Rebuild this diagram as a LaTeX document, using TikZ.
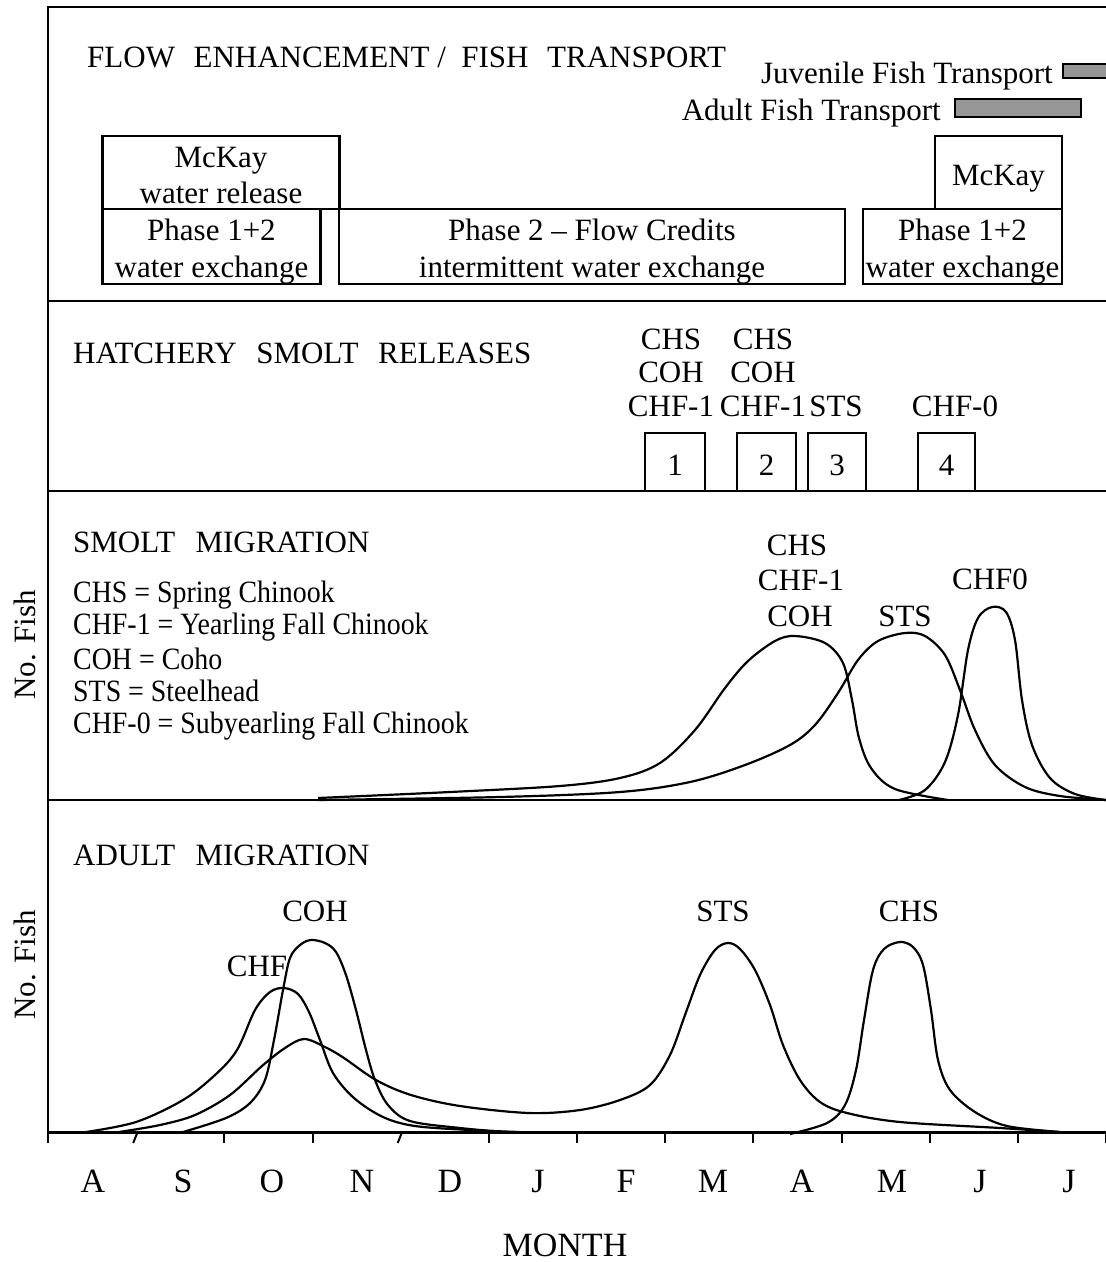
\documentclass[tikz,border=0pt]{standalone}
\usepackage{fontspec}
\setmainfont{Liberation Serif}
\definecolor{bargray}{RGB}{150,150,150}
\newcommand{\dn}[2]{\raisebox{#1}[\height][\depth]{#2}}
\begin{document}
\begin{tikzpicture}[x=1pt,y=-1pt,
  txt/.style={font=\fontsize{31}{36}\selectfont, inner sep=0pt},
  mon/.style={font=\fontsize{34}{40}\selectfont, inner sep=0pt, anchor=base},
  frameline/.style={line width=2.2pt},
  curve/.style={line width=2.2pt, smooth, tension=0.55, line join=round},
  boxed/.style={draw, line width=2.2pt, inner sep=0pt, align=center,
    font=\fontsize{31}{36.5}\selectfont},
  bar/.style={draw, line width=1.8pt, fill=bargray}]
\useasboundingbox (0,0) rectangle (1106,1262);
% frame
\coordinate (tl) at (48,7);
\coordinate (tr) at (1106,7);
\coordinate (bl) at (48,1132);
\coordinate (br) at (1106,1132);
\draw[frameline] (tr) -- (tl) -- (bl);
\draw[line width=3pt] (bl) -- (br);
\foreach \y in {301,491,800} \draw[frameline] (48,\y) -- (1106,\y);
% ticks
\foreach \k in {0,2,3,5,6,7,8,9,10,11,12} \draw[line width=2pt] ({48+88.17*\k},1132) -- ({48+88.17*\k},1143);
\foreach \k in {1,4} \draw[line width=2pt] ({48+88.17*\k-3},1143) -- ({48+88.17*\k+1},1133);
% ---------- flow enhancement ----------
\node[txt, anchor=base west] (hflow) at (87,67) {FLOW\hspace{0.35em} ENHANCEMENT /\hspace{0.25em} FISH\hspace{0.35em} TRANSPORT};
\node[txt, anchor=base east] (juv) at (1053,83) {Juvenile Fish Transport};
\node[txt, anchor=base east] (adt) at (941,120) {Adult Fish Transport};
\draw[bar] (1063,64) rectangle (1112,78);
\draw[bar] (955,99) rectangle (1081,117);
\node[boxed, minimum width=237pt, minimum height=73pt] (mck1) at (221,172.5) {\dn{-3pt}{McKay}\\\dn{-3pt}{water release}};
\node[boxed, minimum width=218pt, minimum height=75pt] (ph1) at (211.5,246.5) {\dn{-5pt}{Phase 1+2}\\\dn{-5pt}{water exchange}};
\node[boxed, minimum width=506pt, minimum height=75pt] (ph2) at (592,246.5) {\dn{-5pt}{Phase 2 -- Flow Credits}\\\dn{-5pt}{intermittent water exchange}};
\node[boxed, minimum width=127pt, minimum height=73pt] (mck2) at (998.5,172.5) {\dn{-6pt}{McKay}};
\node[boxed, minimum width=199pt, minimum height=75pt] (ph3) at (962.5,246.5) {\dn{-5pt}{Phase 1+2}\\\dn{-5pt}{water exchange}};
% ---------- hatchery ----------
\node[txt, anchor=base west] (hhat) at (73,363) {HATCHERY\hspace{0.38em} SMOLT\hspace{0.38em} RELEASES};
\node[txt, anchor=base] (h1a) at (671,349) {CHS};
\node[txt, anchor=base] (h1b) at (671,382) {COH};
\node[txt, anchor=base] (h1c) at (671,416) {CHF-1};
\node[txt, anchor=base] (h2a) at (763,349) {CHS};
\node[txt, anchor=base] (h2b) at (763,382) {COH};
\node[txt, anchor=base] (h2c) at (763,416) {CHF-1};
\node[txt, anchor=base] (h3c) at (836,416) {STS};
\node[txt, anchor=base] (h4c) at (955,416) {CHF-0};
\node[boxed, minimum width=60pt, minimum height=58pt] (r1) at (675,462) {\dn{-3pt}{1}};
\node[boxed, minimum width=59pt, minimum height=58pt] (r2) at (766.5,462) {\dn{-3pt}{2}};
\node[boxed, minimum width=58pt, minimum height=58pt] (r3) at (837,462) {\dn{-3pt}{3}};
\node[boxed, minimum width=57pt, minimum height=58pt] (r4) at (946.5,462) {\dn{-3pt}{4}};
% ---------- smolt migration ----------
\node[txt, anchor=base west] (hsm) at (73,552) {SMOLT\hspace{0.4em} MIGRATION};
\node[txt, anchor=base west] (l1) at (73,602) {\scalebox{0.9}[1]{CHS = Spring Chinook}};
\node[txt, anchor=base west] (l2) at (73,634) {\scalebox{0.9}[1]{CHF-1 = Yearling Fall Chinook}};
\node[txt, anchor=base west] (l3) at (73,669) {\scalebox{0.9}[1]{COH = Coho}};
\node[txt, anchor=base west] (l4) at (73,701) {\scalebox{0.9}[1]{STS = Steelhead}};
\node[txt, anchor=base west] (l5) at (73,733) {\scalebox{0.9}[1]{CHF-0 = Subyearling Fall Chinook}};
\node[txt, rotate=90] (nf1) at (25,645) {No. Fish};
\node[txt, anchor=base] (s1) at (797,555) {CHS};
\node[txt, anchor=base] (s2) at (801,590) {CHF-1};
\node[txt, anchor=base] (s3) at (800,626) {COH};
\node[txt, anchor=base] (s4) at (905,626) {STS};
\node[txt, anchor=base] (s5) at (990,589) {CHF0};
\draw[curve] plot coordinates {(318,798) (450,792) (560,786) (620,778) (660,763) (695,730) (725,688) (748,661) (775,641) (795,636) (825,643) (843,663) (852,700) (859,738) (871,768) (895,789) (948,800)};
\draw[curve] plot coordinates {(318,800) (500,797) (620,792) (690,782) (745,765) (790,745) (815,725) (838,693) (858,660) (878,641) (905,633) (925,636) (945,655) (960,690) (975,730) (995,765) (1025,787) (1060,796) (1106,800)};
\draw[curve] plot coordinates {(899,800) (925,790) (945,762) (958,715) (968,650) (978,618) (992,607) (1006,612) (1015,640) (1022,700) (1032,745) (1050,778) (1075,794) (1106,800)};
% ---------- adult migration ----------
\node[txt, anchor=base west] (had) at (73,865) {ADULT\hspace{0.4em} MIGRATION};
\node[txt, rotate=90] (nf2) at (25,965) {No. Fish};
\node[txt, anchor=base] (a1) at (315,921) {COH};
\node[txt, anchor=base] (a2) at (257,976) {CHF};
\node[txt, anchor=base] (a3) at (723,921) {STS};
\node[txt, anchor=base] (a4) at (909,921) {CHS};
\draw[curve] plot coordinates {(86,1132) (136,1122) (183,1100) (215,1075) (237,1050) (255,1010) (270,992) (284,988) (298,994) (309,1012) (320,1040) (333,1073) (354,1098) (383,1117) (415,1126) (470,1130) (520,1132)};
\draw[curve] plot coordinates {(183,1132) (226,1118) (250,1103) (265,1080) (274,1040) (283,990) (290,958) (300,945) (311,940) (325,943) (336,952) (346,975) (356,1010) (366,1050) (375,1080) (388,1105) (410,1121) (460,1128) (505,1132)};
\draw[curve] plot coordinates {(119,1132) (160,1125) (195,1115) (230,1095) (262,1066) (285,1048) (304,1039) (325,1047) (344,1058) (376,1080) (411,1095) (460,1106) (529,1113) (580,1110) (620,1100) (650,1085) (670,1055) (685,1015) (700,975) (715,950) (728,943) (740,949) (755,970) (770,1005) (783,1045) (800,1080) (820,1102) (847,1113) (900,1122) (1000,1128) (1060,1132)};
\draw[curve] plot coordinates {(790,1134) (827,1123) (845,1105) (856,1070) (864,1020) (873,970) (884,949) (900,942) (913,947) (923,965) (931,1010) (938,1060) (950,1090) (975,1112) (1007,1126) (1060,1132)};
% ---------- months ----------
\foreach \m/\x [count=\i] in {A/93,S/183,O/272,N/362,D/450,J/538,F/626,M/713,A/802,M/892,J/980,J/1069}
  \node[mon] (m\i) at (\x,1192) {\m};
\node[mon] (month) at (565,1256) {MONTH};
\end{tikzpicture}
\end{document}
